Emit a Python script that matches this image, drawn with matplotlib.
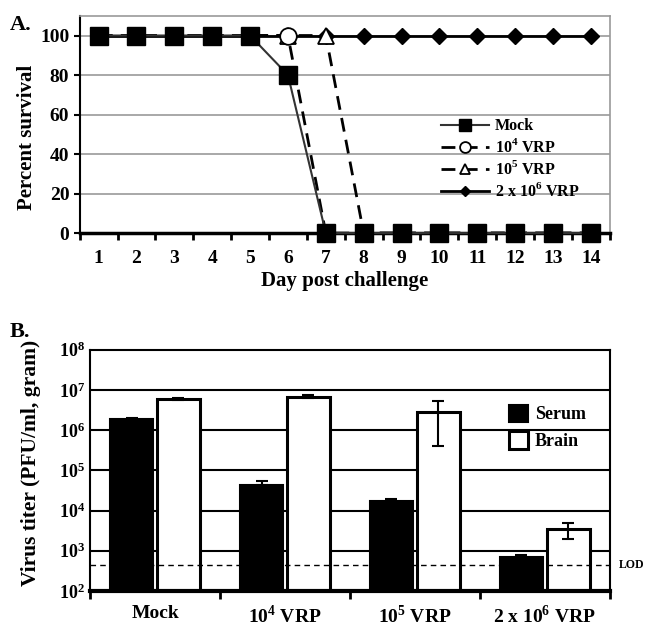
import numpy as np
import matplotlib
matplotlib.use('Agg')
import matplotlib.pyplot as plt

plt.rcParams['font.family'] = ['Liberation Serif', 'DejaVu Serif']
plt.rcParams['font.weight'] = 'bold'
plt.rcParams['mathtext.fontset'] = 'custom'
plt.rcParams['mathtext.rm'] = 'Liberation Serif:bold'
plt.rcParams['mathtext.bf'] = 'Liberation Serif:bold'

# panel A: survival
days = list(range(1, 15))
mock = [100, 100, 100, 100, 100, 80, 0, 0, 0, 0, 0, 0, 0, 0]
vrp4 = [100, 100, 100, 100, 100, 100, 0, 0, 0, 0, 0, 0, 0, 0]
vrp5 = [100, 100, 100, 100, 100, 100, 100, 0, 0, 0, 0, 0, 0, 0]
vrp2e6 = [100] * 14

# panel B: titers
groups = ['Mock', r'10$^{4}$ VRP', r'10$^{5}$ VRP', r'2 x 10$^{6}$ VRP']
serum = [1.9e6, 4.3e4, 1.7e4, 7.1e2]
serum_err = [0.1e6, 1.1e4, 0.2e4, 0.8e2]
brain = [5.9e6, 6.7e6, 2.8e6, 3.5e3]
brain_err = [0.4e6, 0.6e6, 2.4e6, 1.5e3]
lod = 440
decades = [1e2, 1e3, 1e4, 1e5, 1e6, 1e7, 1e8]

fig = plt.figure(figsize=(6.48, 6.3), dpi=100)

# ---- A ----
ax = fig.add_axes([0.123, 0.630, 0.818, 0.345])
ax.set_xlim(0.5, 14.5)
ax.set_ylim(0, 110)
for y in range(20, 101, 20):
    ax.axhline(y, color='#999999', lw=1.2, zorder=0)
ax.plot(days, vrp2e6, '-', color='black', lw=2, marker='D', ms=8, label=r'2 x 10$^{6}$ VRP',
        zorder=3, clip_on=False)
ax.plot(days, vrp5, '--', color='black', lw=2, marker='^', ms=12, mfc='white', mec='black', mew=1.3,
        dashes=(5, 3), label=r'10$^{5}$ VRP', zorder=4, clip_on=False)
ax.plot(days, vrp4, '--', color='black', lw=2, marker='o', ms=12, mfc='white', mec='black', mew=1.3,
        dashes=(5, 3), label=r'10$^{4}$ VRP', zorder=5, clip_on=False)
ax.plot(days, mock, '-', color='#333333', lw=1.5, marker='s', ms=12.5, mfc='black', mec='black',
        label='Mock', zorder=6, clip_on=False)

ax.set_yticks(range(0, 101, 20))
ax.set_xticks(days)
ax.set_xticks(np.arange(0.5, 15, 1), minor=True)
ax.tick_params(axis='x', which='major', length=0, labelsize=14, pad=12)
ax.tick_params(axis='x', which='minor', length=5, width=2, direction='out')
ax.tick_params(axis='y', length=4, width=1.5, labelsize=14)
for s in ['top', 'right']:
    ax.spines[s].set_color('#999999')
    ax.spines[s].set_linewidth(1.2)
ax.spines['bottom'].set_linewidth(2.5)
ax.spines['left'].set_linewidth(1.5)
ax.set_xlabel('Day post challenge', fontsize=15, fontweight='bold', labelpad=3)
ax.set_ylabel('Percent survival', fontsize=15, fontweight='bold')
ax.yaxis.set_label_coords(-0.08, 0.44)
h, l = ax.get_legend_handles_labels()
order = [3, 2, 1, 0]
ax.legend([h[i] for i in order], [l[i] for i in order], loc='center left', bbox_to_anchor=(0.66, 0.34),
          frameon=False, fontsize=11.5, handlelength=3.0, labelspacing=0.25, borderpad=0.2,
          handletextpad=0.4, markerscale=0.65)
fig.text(0.015, 0.952, 'A.', fontsize=16, fontweight='bold')

# ---- B ----
bx = fig.add_axes([0.139, 0.062, 0.802, 0.383])
x = np.arange(len(groups))
w = 0.33
bx.set_yscale('log')
bx.set_ylim(1e2, 1e8)
bx.set_xlim(-0.5, 3.5)
for e in decades[1:-1]:
    bx.axhline(e, color='black', lw=1.5, zorder=0)
bx.bar(x - 0.18, serum, w, color='black', edgecolor='black', lw=1.5, label='Serum', zorder=2,
       yerr=[[0] * 4, serum_err], error_kw=dict(ecolor='black', capsize=4, elinewidth=1.5, capthick=1.5))
bx.bar(x + 0.18, brain, w, color='white', edgecolor='black', lw=2.2, label='Brain', zorder=2,
       yerr=brain_err, error_kw=dict(ecolor='black', capsize=4, elinewidth=1.5, capthick=1.5))
bx.axhline(lod, color='black', ls='--', lw=1, dashes=(4, 3), zorder=3)
bx.text(1.018, lod, 'LOD', fontsize=8.5, va='center', ha='left', fontweight='bold',
        transform=bx.get_yaxis_transform())

bx.set_yticks(decades)
bx.yaxis.set_minor_locator(matplotlib.ticker.NullLocator())
bx.set_xticks(x)
bx.set_xticklabels(groups)
bx.set_xticks([-0.5, 0.5, 1.5, 2.5, 3.5], minor=True)
bx.tick_params(axis='x', which='major', length=0, labelsize=14, pad=10)
bx.tick_params(axis='x', which='minor', length=6, width=2, direction='out')
bx.tick_params(axis='y', which='both', length=0, labelsize=13)
for s in ['top', 'right', 'left']:
    bx.spines[s].set_linewidth(1.5)
bx.spines['bottom'].set_linewidth(3)
bx.set_ylabel('Virus titer (PFU/ml, gram)', fontsize=15.5, fontweight='bold')
bx.yaxis.set_label_coords(-0.095, 0.53)
bx.legend(loc='upper right', bbox_to_anchor=(0.985, 0.84), frameon=False, fontsize=13,
          handlelength=1.0, handleheight=1.1, labelspacing=0.45, handletextpad=0.4)
fig.text(0.015, 0.465, 'B.', fontsize=16, fontweight='bold')

fig.savefig('out.png', dpi=100)
